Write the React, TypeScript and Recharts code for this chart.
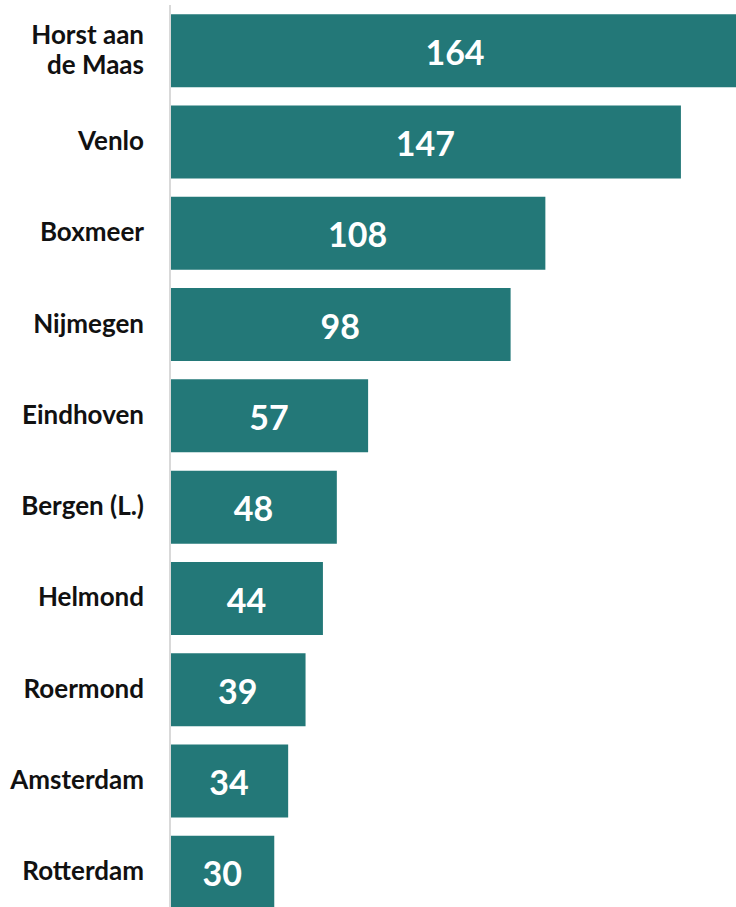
import { BarChart, Bar, XAxis, YAxis, Cell, LabelList } from "recharts"

const places = [
  "Horst aan de Maas",
  "Venlo",
  "Boxmeer",
  "Nijmegen",
  "Eindhoven",
  "Bergen (L.)",
  "Helmond",
  "Roermond",
  "Amsterdam",
  "Rotterdam",
]
const counts = [164, 147, 108, 98, 57, 48, 44, 39, 34, 30]

const data = places.map((place, i) => ({ place, count: counts[i] }))

const teal = "#237878"
const font = "Lato, 'Open Sans', sans-serif"

// splits long names over two lines like the original
const PlaceTick = (props: any) => {
  const { x, y, payload } = props
  const name: string = payload.value
  const lines = name === "Horst aan de Maas" ? ["Horst aan", "de Maas"] : [name]
  const lh = 30
  const start = -((lines.length - 1) * lh) / 2
  return (
    <text
      x={x - 18}
      y={y}
      textAnchor="end"
      fontFamily={font}
      fontWeight={700}
      fontSize={26}
      fill="#111"
    >
      {lines.map((l, i) => (
        <tspan key={i} x={x - 18} dy={i === 0 ? start + 8 : lh}>
          {l}
        </tspan>
      ))}
    </text>
  )
}

export default function App() {
  return (
    <div style={{ position: "absolute", left: 0, top: 0, width: 736, height: 907, overflow: "hidden", background: "#fff" }}>
      <BarChart
        width={740}
        height={918}
        data={data}
        layout="vertical"
        margin={{ top: 5, right: 0, bottom: 0, left: 0 }}
        barCategoryGap="10%"
      >
        <XAxis type="number" domain={[0, 164]} hide />
        <YAxis
          type="category"
          dataKey="place"
          width={170}
          axisLine={{ stroke: "#d9d9d9", strokeWidth: 2 }}
          tickLine={false}
          tick={<PlaceTick />}
          interval={0}
        />
        <Bar dataKey="count" fill={teal} isAnimationActive={false}>
          {data.map((d) => (
            <Cell key={d.place} fill={teal} />
          ))}
          <LabelList
            dataKey="count"
            position="center"
            fill="#fff"
            dy={2}
            style={{ fontFamily: font, fontWeight: 700, fontSize: 34 }}
          />
        </Bar>
      </BarChart>
    </div>
  )
}
